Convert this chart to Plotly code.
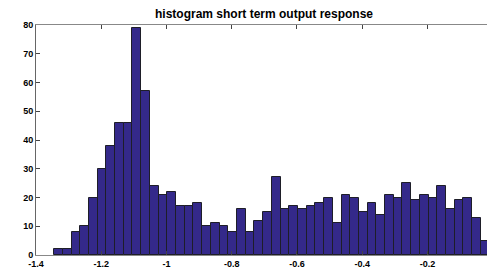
import numpy as np
import plotly.graph_objects as go

# histogram counts (50 bins)
counts = [2, 2, 8, 10, 20, 30, 38, 46, 46, 79,
          57, 24, 21, 22, 17, 17, 18, 10, 11, 10,
          8, 16, 8, 12, 15, 27, 16, 17, 16, 17,
          18, 20, 11, 21, 20, 15, 18, 14, 21, 20,
          25, 19, 21, 20, 24, 16, 19, 20, 13, 5]
bin_left = -1.3445
bin_width = 0.0267
centers = [bin_left + bin_width * (i + 0.5) for i in range(len(counts))]

x_ticks = [-1.4, -1.2, -1.0, -0.8, -0.6, -0.4, -0.2]
x_tick_labels = ["<b>-1.4</b>", "<b>-1.2</b>", "<b>-1</b>", "<b>-0.8</b>",
                 "<b>-0.6</b>", "<b>-0.4</b>", "<b>-0.2</b>"]
y_ticks = [0, 10, 20, 30, 40, 50, 60, 70, 80]
y_tick_labels = ["<b>%d</b>" % v for v in y_ticks]

fig = go.Figure(go.Bar(
    x=centers, y=counts, width=bin_width,
    marker=dict(color="#34298a", line=dict(color="#1e1e28", width=1)),
))

ff = "Liberation Sans, Arial, sans-serif"
fig.update_layout(
    width=487, height=271,
    margin=dict(l=36, r=0, t=25, b=16, autoexpand=False),
    paper_bgcolor="white", plot_bgcolor="white",
    showlegend=False,
    bargap=0,
    title=dict(text="<b>histogram short term output response</b>",
               x=264 / 487, xanchor="center", y=1 - 14 / 271, yanchor="middle",
               font=dict(family=ff, size=12, color="#000000")),
)
fig.update_xaxes(
    range=[-1.4, -1.4 + 451 / 326.2],
    tickvals=x_ticks, ticktext=x_tick_labels,
    ticks="inside", ticklen=4, tickcolor="#444444",
    showline=True, linecolor="#888888", linewidth=1, mirror="ticks",
    showgrid=False, zeroline=False, automargin=False,
    tickfont=dict(family=ff, size=9, color="#000000"),
)
fig.update_yaxes(
    range=[0, 80],
    tickvals=y_ticks, ticktext=y_tick_labels,
    ticks="inside", ticklen=4, tickcolor="#444444",
    showline=True, linecolor="#666666", linewidth=1, mirror=False,
    showgrid=False, zeroline=False, automargin=False,
    tickfont=dict(family=ff, size=9, color="#000000"),
)

fig.write_html("out.html",
               config={"displayModeBar": False},
               post_script="document.body.style.margin='0';document.body.style.overflow='hidden';")
